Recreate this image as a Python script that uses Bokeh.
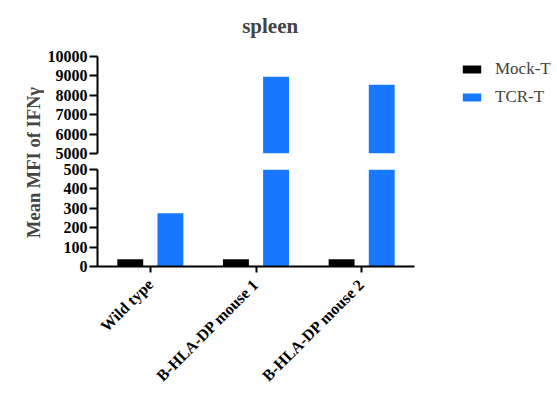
import math
from bokeh.plotting import figure
from bokeh.models import (ColumnDataSource, FactorRange, Range1d, FixedTicker,
                          Legend, LegendItem, Label, CDSView, BooleanFilter)
from bokeh.transform import dodge
from bokeh.layouts import row, column
from bokeh.embed import file_html
from bokeh.resources import INLINE

# ---- data ----
categories = ["Wild type", "B-HLA-DP mouse 1", "B-HLA-DP mouse 2"]
mock_t = [38, 38, 38]
tcr_t = [275, 8950, 8540]
series = ["Mock-T", "TCR-T"]
colors = ["#000000", "#1877FF"]
lower_ticks = [0, 100, 200, 300, 400, 500]
upper_ticks = [5000, 6000, 7000, 8000, 9000, 10000]
title_text = "spleen"
y_label = "Mean MFI of IFNγ"

FONT = "Liberation Serif"

src = ColumnDataSource(dict(cat=categories, mock=mock_t, tcr=tcr_t))
xr = FactorRange(*categories, range_padding=0)

LABW = 44
LB, RB = 52, 10
W = LB + 318 + RB
TH = 40
BOT = 127
TOTAL_H = 161 + 8 + 97 + BOT


def style_axis(ax, tick_out):
    ax.axis_line_width = 2
    ax.axis_line_color = "black"
    ax.major_tick_line_width = 2
    ax.major_tick_line_color = "black"
    ax.major_tick_out = tick_out
    ax.major_tick_in = 0
    ax.minor_tick_line_color = None
    ax.major_label_text_font = FONT
    ax.major_label_text_font_style = "bold"
    ax.major_label_text_font_size = "16px"
    ax.major_label_text_color = "black"


def add_bars(p, views=(None, None)):
    kw1 = {} if views[0] is None else {"view": views[0]}
    kw2 = {} if views[1] is None else {"view": views[1]}
    r1 = p.vbar(x=dodge("cat", -0.19, range=xr), top="mock", bottom=0, width=0.245,
                source=src, fill_color=colors[0], line_color=None, **kw1)
    r2 = p.vbar(x=dodge("cat", 0.19, range=xr), top="tcr", bottom=0, width=0.245,
                source=src, fill_color=colors[1], line_color=None, **kw2)
    return r1, r2


def blank(width, height, xrange, yrange):
    f = figure(width=width, height=height, x_range=xrange, y_range=yrange,
               toolbar_location=None, output_backend="svg", x_axis_type=None,
               y_axis_type=None, min_border=0, outline_line_color=None)
    f.grid.visible = False
    return f


# ---- title strip ----
tfig = blank(W, TH, Range1d(0, W), Range1d(0, TH))
tfig.add_layout(Label(x=LB + 155, y=TH - 25, text=title_text, text_align="center",
                      text_baseline="middle", text_font=FONT, text_font_style="bold",
                      text_font_size="21px"))

# ---- upper segment (5000 - 10000) ----
up = figure(width=W, height=161 - TH, x_range=xr, y_range=Range1d(5000, 10000),
            toolbar_location=None, output_backend="svg", x_axis_type=None,
            min_border_left=LB, min_border_right=RB, min_border_top=56 - TH,
            min_border_bottom=8, outline_line_color=None)
up.grid.visible = False
view_m = CDSView(filter=BooleanFilter([v > upper_ticks[0] for v in mock_t]))
view_t = CDSView(filter=BooleanFilter([v > upper_ticks[0] for v in tcr_t]))
add_bars(up, (view_m, view_t))
up.yaxis.ticker = FixedTicker(ticks=upper_ticks)
style_axis(up.yaxis[0], 8)
up.yaxis.major_label_standoff = 2

# ---- lower segment (0 - 500) ----
low = figure(width=W, height=8 + 97 + BOT, x_range=xr, y_range=Range1d(0, 500),
             toolbar_location=None, output_backend="svg",
             min_border_left=LB, min_border_right=RB, min_border_top=8,
             min_border_bottom=BOT, outline_line_color=None)
low.grid.visible = False
add_bars(low)
low.yaxis.ticker = FixedTicker(ticks=lower_ticks)
style_axis(low.yaxis[0], 8)
low.yaxis.major_label_standoff = 2
style_axis(low.xaxis[0], 6)
low.xaxis.major_label_orientation = math.pi / 4
low.xaxis.major_label_standoff = 9

# ---- y label column ----
lab = blank(LABW, TOTAL_H, Range1d(0, LABW), Range1d(0, TOTAL_H))
lab.add_layout(Label(x=33, y=TOTAL_H - 162, text=y_label, angle=math.pi / 2,
                     text_align="center", text_baseline="middle", text_font=FONT,
                     text_font_style="bold", text_font_size="18.5px"))

# ---- legend column (legend-only renderers, hidden) ----
LW = 554 - LABW - W
leg = blank(LW, 120, xr, Range1d(0, 10000))
l1, l2 = add_bars(leg)
l1.visible = False
l2.visible = False
legend = Legend(items=[LegendItem(label=series[0], renderers=[l1]),
                       LegendItem(label=series[1], renderers=[l2])],
                location=(460 - LABW - W, 120 - 107), padding=0, margin=0,
                glyph_width=23, glyph_height=10, label_height=20, spacing=8,
                label_standoff=12, border_line_color=None,
                background_fill_alpha=0, label_text_font=FONT,
                label_text_font_size="17px", inactive_fill_alpha=0)
leg.add_layout(legend)

layout = row(lab, column(tfig, up, low), leg)
open("out.html", "w").write(file_html(layout, INLINE))
